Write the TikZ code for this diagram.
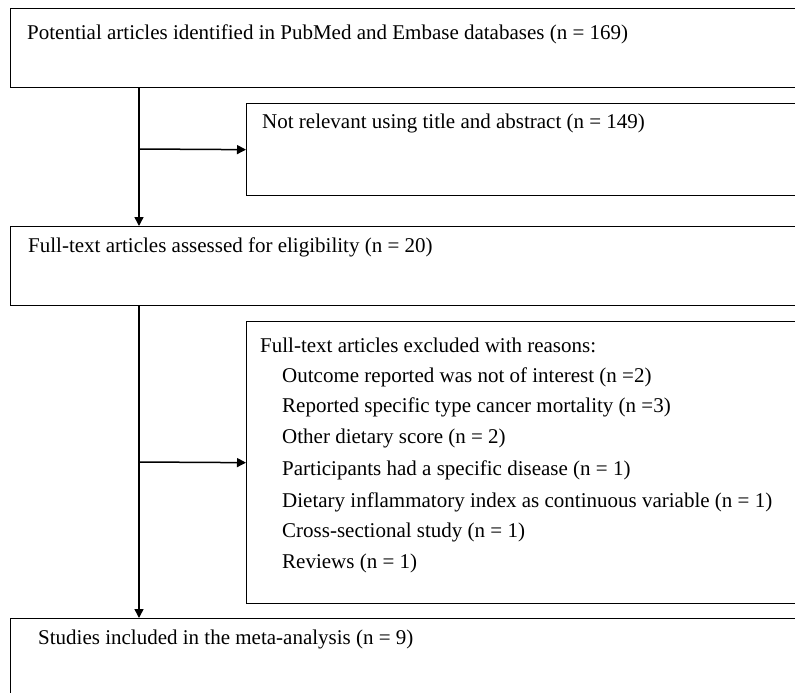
\documentclass[tikz,border=0pt]{standalone}
\usepackage{fontspec}
\setmainfont{Liberation Serif}
\usetikzlibrary{arrows.meta}
\usetikzlibrary{positioning}

\begin{document}
\begin{tikzpicture}
[x=1pt,y=-1pt,>={Triangle[length=9pt,width=9pt]},
 box/.style={draw,line width=1.3pt,rectangle,anchor=north west,minimum width=820pt,inner sep=0pt},
 txt/.style={anchor=west,inner sep=0pt,font=\fontsize{21}{24}\selectfont},
 link/.style={line width=1.5pt}]

\useasboundingbox (0,0) rectangle (795,693);
\clip (0,0) rectangle (795,693);

\node[box,minimum height=79pt] (found) at (10,8) {};
\node[box,minimum height=92pt] (notrel) at (246,103) {};
\node[box,minimum height=79pt] (full) at (10,226) {};
\node[box,minimum height=282pt] (excl) at (246,321) {};
\node[box,minimum height=100pt] (incl) at (10,618) {};

\node[txt] (found-t) at (27,34) {Potential articles identified in PubMed and Embase databases (n = 169)};
\node[txt] (notrel-t) at (262,123) {Not relevant using title and abstract (n = 149)};
\node[txt] (full-t) at (28,247) {Full-text articles assessed for eligibility (n = 20)};

\node[txt] (excl-t) at (260,345) {Full-text articles excluded with reasons:};
\node[txt] (r1) at (282,377) {Outcome reported was not of interest (n =2)};
\node[txt] (r2) at (282,407) {Reported specific type cancer mortality (n =3)};
\node[txt] (r3) at (282,438) {Other dietary score (n = 2)};
\node[txt] (r4) at (282,470) {Participants had a specific disease (n = 1)};
\node[txt] (r5) at (282,502) {Dietary inflammatory index as continuous variable (n = 1)};
\node[txt] (r6) at (282,532) {Cross-sectional study (n = 1)};
\node[txt] (r7) at (282,563) {Reviews (n = 1)};

\node[txt] (incl-t) at (38,639) {Studies included in the meta-analysis (n = 9)};

\coordinate (j1) at (139,149);
\coordinate (j2) at (139,462);

\draw[link,->] (found.south -| j1) -- (full.north -| j1);
\draw[link,->] (j1) -- (notrel.west);

\draw[link,->] (full.south -| j2) -- (incl.north -| j2);
\draw[link,->] (j2) -- (excl.west);

\end{tikzpicture}
\end{document}
